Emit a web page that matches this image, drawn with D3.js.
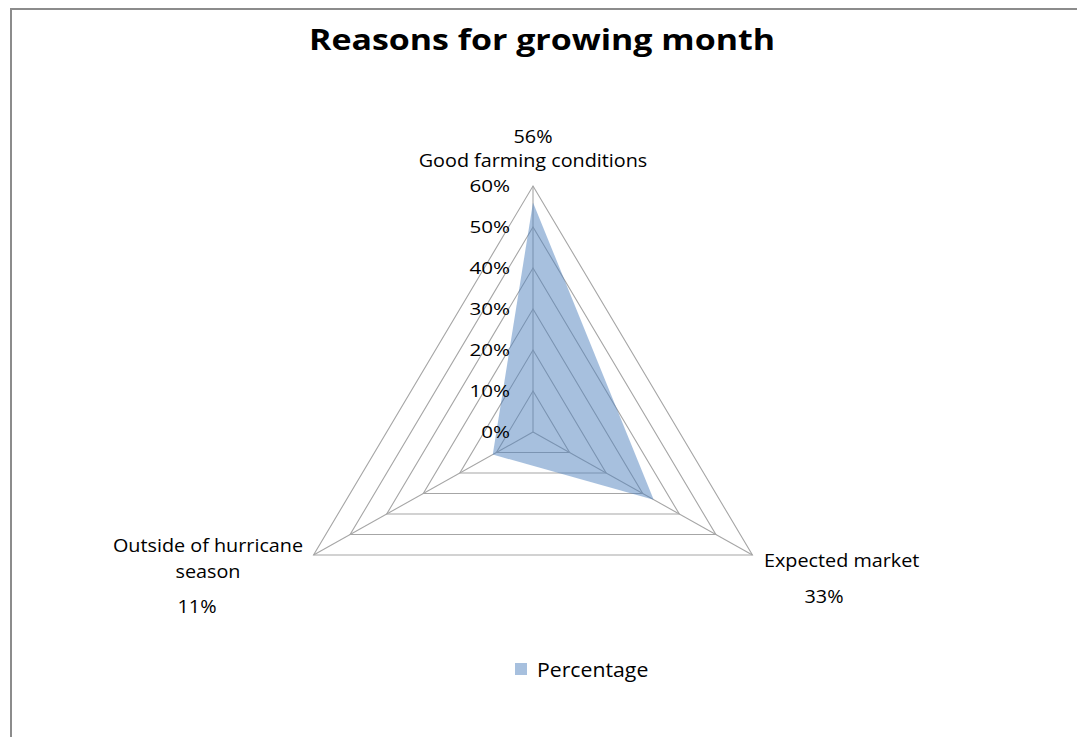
<!DOCTYPE html>
<html>
<head>
<meta charset="utf-8">
<script src="https://cdn.jsdelivr.net/npm/d3@7"></script>
<style>
  html, body { margin: 0; padding: 0; background: #fff; }
  svg { display: block; }
  text { font-family: "Open Sans", "Noto Sans", sans-serif; fill: #000; }
</style>
</head>
<body>
<svg id="chart" width="1077" height="737"></svg>
<script>
// Survey results: reasons given for the choice of growing month
const categories = ["Good farming conditions", "Expected market", "Outside of hurricane season"];
const values = [0.56, 0.33, 0.11];
const seriesName = "Percentage";
const tickValues = [0, 0.1, 0.2, 0.3, 0.4, 0.5, 0.6];
const tickLabels = ["0%", "10%", "20%", "30%", "40%", "50%", "60%"];
const title = "Reasons for growing month";

const W = 1077, H = 737;
const cx = 533, cy = 432, R = 246, stretchX = 1.03;
const seriesColor = "#4F81BD";
const gridColor = "#a6a6a6";

const svg = d3.select("#chart");

// Places a (possibly multi-line) text with a slightly widened face (sx) around its anchor point.
// lines: array of [dy, string] pairs, dy measured from the anchor baseline.
function label(parent, x, y, lines, opt) {
  const t = parent.append("text")
    .attr("transform", `translate(${x},${y}) scale(${opt.sx || 1},1)`)
    .attr("text-anchor", opt.anchor || "start")
    .style("font-size", opt.size + "px")
    .style("font-weight", opt.weight || "normal");
  if (typeof lines === "string") lines = [[0, lines]];
  lines.forEach(([dy, s]) => t.append("tspan").attr("x", 0).attr("y", dy).text(s));
  return t;
}

// chart area frame
svg.append("rect")
  .attr("x", 11).attr("y", 9)
  .attr("width", W + 10).attr("height", H + 10)
  .attr("fill", "none").attr("stroke", "#8c8c8c").attr("stroke-width", 2);

label(svg, 542, 50, title, { size: 29, weight: "bold", anchor: "middle", sx: 1.17 });

const r = d3.scaleLinear().domain([0, 0.6]).range([0, R]);
const angle = d3.scalePoint().domain(categories).range([0, 2 * Math.PI * (categories.length - 1) / categories.length]);

function pt(cat, v) {
  const a = angle(cat);
  return [cx + Math.sin(a) * r(v) * stretchX, cy - Math.cos(a) * r(v)];
}

const plot = svg.append("g");

// grid rings
const line = d3.line().curve(d3.curveLinearClosed);
plot.selectAll("path.ring").data(tickValues.filter(t => t > 0)).join("path")
  .attr("class", "ring")
  .attr("d", t => line(categories.map(c => pt(c, t))))
  .attr("fill", "none").attr("stroke", gridColor).attr("stroke-width", 1.1);

// spokes
plot.selectAll("line.spoke").data(categories).join("line")
  .attr("class", "spoke")
  .attr("x1", cx).attr("y1", cy)
  .attr("x2", c => pt(c, 0.6)[0]).attr("y2", c => pt(c, 0.6)[1])
  .attr("stroke", gridColor).attr("stroke-width", 1.1);

// series area
plot.append("path")
  .attr("d", line(categories.map((c, i) => pt(c, values[i]))))
  .attr("fill", seriesColor).attr("fill-opacity", 0.5).attr("stroke", "none");

// radial axis labels
tickValues.forEach((t, i) => {
  label(plot, cx - 23, cy - r(t) + 6, tickLabels[i], { size: 16.5, anchor: "end", sx: 1.25 });
});

// category labels with their values
const fmt = d3.format(".0%");
const cat = { size: 18, sx: 1.10 };
// top: value above the category name
label(svg, 533, 143, fmt(values[0]), { ...cat, anchor: "middle" });
label(svg, 533, 167, categories[0], { ...cat, anchor: "middle" });
// right
label(svg, 764, 567, categories[1], { ...cat, anchor: "start" });
label(svg, 824, 603, fmt(values[1]), { ...cat, anchor: "middle" });
// left, wrapped over two lines
label(svg, 208, 552, [[0, "Outside of hurricane"], [26, "season"]], { ...cat, anchor: "middle" });
label(svg, 197, 613, fmt(values[2]), { ...cat, anchor: "middle" });

// legend
const legend = svg.append("g");
legend.append("rect").attr("x", 515).attr("y", 663).attr("width", 12).attr("height", 12)
  .attr("fill", seriesColor).attr("fill-opacity", 0.5);
label(legend, 537, 677, seriesName, { size: 19.5, sx: 1.09 });
</script>
</body>
</html>
